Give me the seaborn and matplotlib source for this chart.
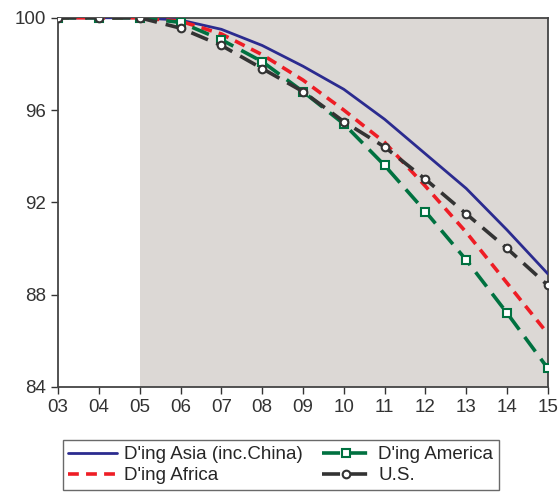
import numpy as np
import pandas as pd
import seaborn as sns
import matplotlib.pyplot as plt

years = list(range(2003, 2016))
year_labels = ["03", "04", "05", "06", "07", "08", "09", "10", "11", "12", "13", "14", "15"]

asia = [100, 100, 100, 99.9, 99.5, 98.8, 97.9, 96.9, 95.6, 94.1, 92.6, 90.8, 88.9]
africa = [100, 100, 100, 99.85, 99.3, 98.4, 97.3, 96.0, 94.6, 92.7, 90.7, 88.5, 86.3]
america = [100, 100, 100, 99.8, 99.05, 98.1, 96.8, 95.4, 93.6, 91.6, 89.5, 87.2, 84.8]
us = [100, 100, 100, 99.55, 98.8, 97.8, 96.8, 95.5, 94.4, 93.0, 91.5, 90.0, 88.4]

series = {
    "D'ing Asia (inc.China)": asia,
    "D'ing Africa": africa,
    "D'ing America": america,
    "U.S.": us,
}

df = pd.DataFrame(
    [(y, name, v) for name, vals in series.items() for y, v in zip(years, vals)],
    columns=["Year", "Series", "Value"],
)

sns.set_style("ticks")
plt.rcParams["font.family"] = ["Liberation Sans", "DejaVu Sans"]

fig, ax = plt.subplots(figsize=(5.59, 4.94), dpi=100)
fig.subplots_adjust(left=0.104, right=0.98, top=0.964, bottom=0.217)

# shaded forecast period
ax.axvspan(2005, 2015, color="#DCD8D5", zorder=0, lw=0)

styles = {
    "D'ing Asia (inc.China)": dict(color="#2B2B8F", ls="-", marker=None),
    "D'ing Africa": dict(color="#EE1D25", ls=(0, (3, 2)), marker=None),
    "D'ing America": dict(color="#007140", ls=(0, (5, 2.5)), marker="s"),
    "U.S.": dict(color="#333333", ls=(0, (5, 2.5)), marker="o"),
}

for name in series:
    st = styles[name]
    sub = df[df["Series"] == name]
    sns.lineplot(data=sub, x="Year", y="Value", ax=ax, color=st["color"],
                 linestyle=st["ls"], linewidth=2.6 if name != "D'ing Asia (inc.China)" else 2.0,
                 marker=st["marker"], markersize=5.5, markerfacecolor="white",
                 markeredgecolor=st["color"], markeredgewidth=1.5,
                 label=name, zorder=3)

ax.set_xlim(2003, 2015)
ax.set_ylim(84, 100)
ax.set_xticks(years)
ax.set_xticklabels(year_labels)
ax.set_yticks([84, 88, 92, 96, 100])
ax.set_xlabel("")
ax.set_ylabel("")
ax.tick_params(axis="both", labelsize=13.5, colors="#333333", direction="out", length=5, width=1)
for sp in ax.spines.values():
    sp.set_color("#444444")
    sp.set_linewidth(1.3)

handles, labels = ax.get_legend_handles_labels()
leg = ax.legend(handles, labels,
                ncol=2, loc="upper left", bbox_to_anchor=(-0.01, -0.12),
                fontsize=13.5, frameon=True, fancybox=False, edgecolor="#444444",
                handlelength=2.6, columnspacing=1.0, borderpad=0.3, labelspacing=0.2,
                handletextpad=0.4)
leg.get_frame().set_linewidth(1.0)

plt.savefig("out.png", dpi=100)
